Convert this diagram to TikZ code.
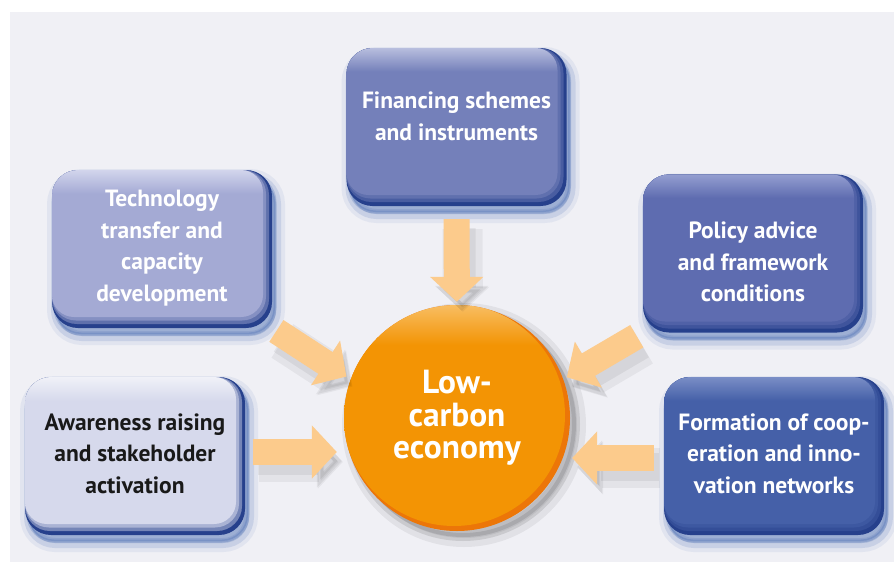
\documentclass[tikz,border=0pt]{standalone}
\usepackage{fontspec}
\setmainfont{PT Sans}
\usepackage{xcolor}
\usepackage{tikz}
\usetikzlibrary{arrows.meta}
\definecolor{bggray}{RGB}{240, 240, 245}
\definecolor{edgeblue}{RGB}{38, 64, 140}
\definecolor{glowblue}{RGB}{50, 90, 170}
\definecolor{techface}{RGB}{164, 170, 212}
\definecolor{techlight}{RGB}{210, 213, 236}
\definecolor{finface}{RGB}{116, 128, 186}
\definecolor{finlight}{RGB}{184, 190, 222}
\definecolor{polface}{RGB}{94, 108, 176}
\definecolor{pollight}{RGB}{148, 158, 208}
\definecolor{awface}{RGB}{214, 217, 236}
\definecolor{awlight}{RGB}{240, 241, 248}
\definecolor{formface}{RGB}{69, 96, 168}
\definecolor{formlight}{RGB}{122, 142, 198}
\definecolor{coreface}{RGB}{243, 148, 4}
\definecolor{corelight}{RGB}{248, 190, 100}
\definecolor{coreedge}{RGB}{236, 118, 8}
\definecolor{arrowfill}{RGB}{252, 203, 140}
\newcommand\boxfont{\fontsize{23.5}{31.5}\selectfont\bfseries}
\newcommand\corefont{\fontsize{33.4}{32.5}\selectfont\bfseries}
\newcommand\bevelshading[3]{\pgfdeclareverticalshading{#1}{100bp}{color(0bp)=(#3); color(25bp)=(#3); color(67bp)=(#3); color(75bp)=(#2); color(100bp)=(#2)}}
\bevelshading{techshade}{techlight}{techface}
\bevelshading{finshade}{finlight}{finface}
\bevelshading{polshade}{pollight}{polface}
\bevelshading{awshade}{awlight}{awface}
\bevelshading{formshade}{formlight}{formface}
\pgfdeclareverticalshading{coreshade}{100bp}{color(0bp)=(coreface); color(66bp)=(coreface); color(75bp)=(corelight); color(100bp)=(corelight)}

\begin{document}
\begin{tikzpicture}[x=1pt, y=-1pt,
    glow/.style={preaction={draw=#1, fill=#1, line width=18pt, opacity=.08, transform canvas={shift={(4pt,-8pt)}}},
                 preaction={draw=#1, fill=#1, line width=10pt, opacity=.14, transform canvas={shift={(4pt,-8pt)}}},
                 preaction={draw=#1, fill=#1, line width=3pt, opacity=.22, transform canvas={shift={(3pt,-6pt)}}}},
    glow/.default=glowblue,
    boxnode/.style n args={2}{fill=edgeblue, rounded corners=26pt, minimum width=220pt, minimum height=158pt,
        align=center, text=white, font=\boxfont, glow,
        path picture={
            \fill[#2!45!edgeblue, rounded corners=25pt] (path picture bounding box.north west) rectangle ([shift={(-3pt,4pt)}]path picture bounding box.south east);
            \fill[#2!75!edgeblue, rounded corners=24pt] (path picture bounding box.north west) rectangle ([shift={(-6pt,7.5pt)}]path picture bounding box.south east);
            \shade[shading=#1, rounded corners=22pt] (path picture bounding box.north west) rectangle ([shift={(-9pt,11pt)}]path picture bounding box.south east);
        }},
    corenode/.style={circle, fill=coreedge, minimum size=226pt, inner sep=0pt, align=center, text=white, font=\corefont,
        preaction={fill=black, opacity=.06, draw=black, line width=18pt, transform canvas={shift={(7pt,-7pt)}}},
        preaction={fill=black, opacity=.1, draw=black, line width=8pt, transform canvas={shift={(6pt,-6pt)}}},
        path picture={
            \shade[shading=coreshade] ([shift={(-3pt,3pt)}]path picture bounding box.center) circle (111pt);
        }},
    flow/.style={draw=arrowfill, line width=26pt, -{Triangle[width=52pt, length=25pt]},
        preaction={draw=black, opacity=.05, line width=40pt, transform canvas={shift={(6pt,-10pt)}}},
        preaction={draw=black, opacity=.06, line width=28pt, transform canvas={shift={(5pt,-9pt)}}}}]

    % Background
    \useasboundingbox (0,0) rectangle (894,571);
    \fill[bggray] (10,12) rectangle (894,562);

    % Boxes
    \node[boxnode={finshade}{finface}, text depth=21.5pt] (finance) at (456.5,127) {Financing schemes\\and instruments};
    \node[boxnode={techshade}{techface}, text depth=6.5pt] (tech) at (162,249) {Technology\\transfer and\\capacity\\development};
    \node[boxnode={polshade}{polface}, text height=96pt, text depth=0pt] (policy) at (753,253.5) {Policy advice\\and framework\\conditions};
    \node[boxnode={awshade}{awface}, text=black!90, text depth=5.5pt] (aware) at (135,456) {Awareness raising\\and stakeholder\\activation};
    \node[boxnode={formshade}{formface}, text depth=5.5pt] (network) at (774,456) {Formation of coop-\\eration and inno-\\vation networks};

    % Centre
    \node[corenode] (lowcarbon) at (457,418) {Low-\\carbon\\economy};

    % Arrows
    \draw[flow, shorten <=13pt, shorten >=3pt] (finance) -- (lowcarbon);
    \draw[flow, shorten <=5pt, shorten >=5pt] (tech.south east) -- (lowcarbon.160);
    \draw[flow, shorten <=7pt, shorten >=4pt] (policy.south west) -- (lowcarbon.20);
    \draw[flow, shorten <=8pt, shorten >=7pt] ([yshift=4pt]aware.east) -- ([yshift=4pt]aware.east -| lowcarbon.west);
    \draw[flow, shorten <=10pt, shorten >=2pt] ([yshift=-2pt]network.west) -- ([yshift=-2pt]network.west -| lowcarbon.east);

\end{tikzpicture}
\end{document}
